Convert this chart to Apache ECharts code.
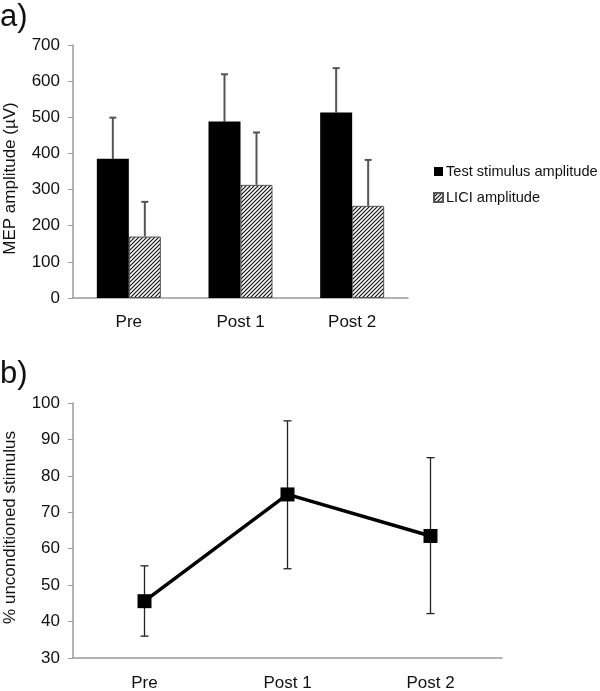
<!DOCTYPE html>
<html>
<head>
<meta charset="utf-8">
<script src="https://cdn.jsdelivr.net/npm/echarts@6/dist/echarts.min.js"></script>
<style>html,body{margin:0;padding:0;background:#fff}#c{width:600px;height:691px}</style>
</head>
<body>
<div id="c"></div>
<script>
// ---- data ----
var categories = ['Pre', 'Post 1', 'Post 2'];
var testAmp = [385, 488, 513];
var testAmpErrTop = [499, 619, 636];
var liciAmp = [170, 313, 255];
var liciAmpErrTop = [266, 458, 382];
var pctUncond = [45.6, 74.9, 63.5];
var pctErrHigh = [55.3, 95.1, 85.0];
var pctErrLow = [36.0, 54.5, 42.2];
var yTicksA = [0, 100, 200, 300, 400, 500, 600, 700];
var yTicksB = [30, 40, 50, 60, 70, 80, 90, 100];

var FONT = '"Liberation Sans", Arial, Helvetica, sans-serif';

// hatch pattern
function makeHatch() {
  var s = 4;
  var c = document.createElement('canvas');
  c.width = s; c.height = s;
  var g = c.getContext('2d');
  g.fillStyle = '#fff'; g.fillRect(0, 0, s, s);
  g.strokeStyle = '#111'; g.lineWidth = 1.2;
  g.beginPath();
  g.moveTo(-1, s + 1); g.lineTo(s + 1, -1);
  g.moveTo(-1, 1); g.lineTo(1, -1);
  g.moveTo(s - 1, s + 1); g.lineTo(s + 1, s - 1);
  g.stroke();
  return c;
}
var hatch = { image: makeHatch(), repeat: 'repeat' };

var BAR_W = 32;

function errBarA(offset, tops, vals) {
  return function (params, api) {
    var i = api.value(0);
    var p0 = api.coord([i, vals[i]]);
    var p1 = api.coord([i, tops[i]]);
    var x = p0[0] + offset;
    var style = { stroke: '#555', lineWidth: 2 };
    return {
      type: 'group',
      children: [
        { type: 'line', shape: { x1: x, y1: p0[1], x2: x, y2: p1[1] }, style: style },
        { type: 'line', shape: { x1: x - 3.5, y1: p1[1], x2: x + 3.5, y2: p1[1] }, style: style }
      ]
    };
  };
}

function errBarB(params, api) {
  var i = api.value(0);
  var hi = api.coord([i, pctErrHigh[i]]);
  var lo = api.coord([i, pctErrLow[i]]);
  var x = hi[0];
  var style = { stroke: '#222', lineWidth: 1.3 };
  return {
    type: 'group',
    children: [
      { type: 'line', shape: { x1: x, y1: hi[1], x2: x, y2: lo[1] }, style: style },
      { type: 'line', shape: { x1: x - 4, y1: hi[1], x2: x + 4, y2: hi[1] }, style: style },
      { type: 'line', shape: { x1: x - 4, y1: lo[1], x2: x + 4, y2: lo[1] }, style: style }
    ]
  };
}

var axisLineStyle = { lineStyle: { color: '#9a9a9a', width: 1.5 } };
var labelStyle = { color: '#111', fontSize: 17, fontFamily: FONT };

var chart = echarts.init(document.getElementById('c'), null, { renderer: 'canvas' });
chart.setOption({
  backgroundColor: '#fff',
  animation: false,
  textStyle: { fontFamily: FONT },
  graphic: [
    { type: 'text', left: 0, top: 2, style: { text: 'a)', font: '31px ' + FONT, fill: '#111' } },
    { type: 'text', left: 0, top: 359, style: { text: 'b)', font: '31px ' + FONT, fill: '#111' } }
  ],
  legend: {
    orient: 'vertical',
    left: 433, top: 164, padding: 0,
    itemWidth: 9, itemHeight: 9, itemGap: 11,
    icon: 'rect',
    textStyle: { fontSize: 14.6, color: '#111', fontFamily: FONT, padding: [0, 0, 0, -2] },
    data: ['Test stimulus amplitude', 'LICI amplitude']
  },
  grid: [
    { left: 73, top: 45, width: 335, height: 253, containLabel: false, outerBoundsMode: 'none' },
    { left: 73, top: 403, width: 429, height: 255, containLabel: false, outerBoundsMode: 'none' }
  ],
  xAxis: [
    {
      gridIndex: 0, type: 'category', data: categories,
      axisLine: axisLineStyle, axisTick: { show: false },
      axisLabel: Object.assign({ margin: 16 }, labelStyle)
    },
    {
      gridIndex: 1, type: 'category', data: categories,
      axisLine: axisLineStyle, axisTick: { show: false },
      axisLabel: Object.assign({ margin: 17 }, labelStyle)
    }
  ],
  yAxis: [
    {
      gridIndex: 0, type: 'value', min: yTicksA[0], max: yTicksA[yTicksA.length - 1], interval: 100,
      axisLine: { show: true, lineStyle: { color: '#9a9a9a', width: 1.5 } },
      axisTick: { show: true, length: 5, lineStyle: { color: '#9a9a9a' } },
      splitLine: { show: false },
      axisLabel: Object.assign({ margin: 13 }, labelStyle),
      name: 'MEP amplitude (µV)', nameLocation: 'middle', nameGap: 54, nameRotate: 90,
      nameTextStyle: { fontSize: 17, color: '#111', fontFamily: FONT, padding: [0, 14, 0, 0] }
    },
    {
      gridIndex: 1, type: 'value', min: yTicksB[0], max: yTicksB[yTicksB.length - 1], interval: 10,
      axisLine: { show: true, lineStyle: { color: '#9a9a9a', width: 1.5 } },
      axisTick: { show: true, length: 5, lineStyle: { color: '#9a9a9a' } },
      splitLine: { show: false },
      axisLabel: Object.assign({ margin: 13 }, labelStyle),
      name: '% unconditioned stimulus', nameLocation: 'middle', nameGap: 54, nameRotate: 90,
      nameTextStyle: { fontSize: 17, color: '#111', fontFamily: FONT, padding: [0, 0, 0, 6] }
    }
  ],
  series: [
    {
      name: 'Test stimulus amplitude', type: 'bar', xAxisIndex: 0, yAxisIndex: 0,
      data: testAmp, barWidth: BAR_W, barGap: '0%',
      itemStyle: { color: '#000', borderColor: '#000', borderWidth: 0 }
    },
    {
      name: 'LICI amplitude', type: 'bar', xAxisIndex: 0, yAxisIndex: 0,
      data: liciAmp, barWidth: BAR_W, barGap: '0%',
      itemStyle: { color: hatch, borderColor: '#555', borderWidth: 1 }
    },
    {
      type: 'custom', xAxisIndex: 0, yAxisIndex: 0, z: 1,
      data: categories.map(function (c, i) { return [i]; }),
      renderItem: errBarA(-BAR_W / 2, testAmpErrTop, testAmp)
    },
    {
      type: 'custom', xAxisIndex: 0, yAxisIndex: 0, z: 1,
      data: categories.map(function (c, i) { return [i]; }),
      renderItem: errBarA(BAR_W / 2, liciAmpErrTop, liciAmp)
    },
    {
      type: 'custom', xAxisIndex: 1, yAxisIndex: 1, z: 1,
      data: categories.map(function (c, i) { return [i]; }),
      renderItem: errBarB
    },
    {
      type: 'line', xAxisIndex: 1, yAxisIndex: 1, z: 3,
      data: pctUncond,
      symbol: 'rect', symbolSize: 14,
      lineStyle: { color: '#000', width: 3.5 },
      itemStyle: { color: '#000' }
    }
  ]
});
</script>
</body>
</html>
